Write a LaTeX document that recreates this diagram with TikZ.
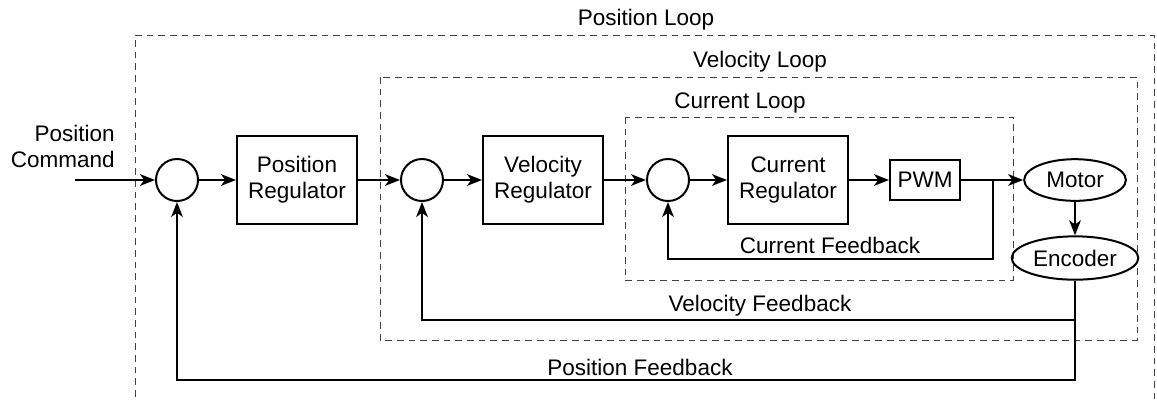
\documentclass[tikz,border=0pt]{standalone}
\usepackage{fontspec}
\setmainfont{Liberation Sans}
\usetikzlibrary{arrows.meta,calc,shapes.geometric}
\tikzset{
  blk/.style={draw, line width=1.2pt, align=center, minimum width=72pt, minimum height=52.8pt, inner sep=1pt},
  sumpt/.style={draw, circle, line width=1.2pt, minimum size=25.2pt, inner sep=0pt},
  plant/.style={draw, ellipse, line width=1.2pt, inner sep=1pt},
  wire/.style={line width=1.2pt, -{Stealth[length=9pt,width=7pt,inset=2.5pt]}},
  loopbox/.style={dashed, line width=0.6pt, draw=black!75, dash pattern=on 4pt off 3pt},
}

\begin{document}
\begin{tikzpicture}[x=0.6pt,y=-0.6pt,font=\fontsize{13.5}{15.6}\selectfont]
  \useasboundingbox (0,0) rectangle (1157,400);
  \clip (0,0) rectangle (1157,400);
  % loop frames
  \draw[loopbox] (135,420) -- (135,35) -- (1154,35) -- (1154,420);
  \draw[loopbox] (380,77) rectangle (1137,340);
  \draw[loopbox] (625,117) rectangle (1013,280);
  \node (lpos) at (646,20) {Position Loop};
  \node (lvel) at (760,62) {Velocity Loop};
  \node (lcur) at (740,103) {Current Loop};
  % forward path
  \node[align=right, anchor=east, inner sep=0pt] (cmd) at (115,146) {Position\\Command};
  \coordinate (in) at (75,180);
  \node[sumpt] (sum1) at (177,180) {};
  \node[blk] (preg) at (297,180) {Position\\Regulator};
  \node[sumpt] (sum2) at (422,180) {};
  \node[blk] (vreg) at (543,180) {Velocity\\Regulator};
  \node[sumpt] (sum3) at (668,180) {};
  \node[blk] (creg) at (788,180) {Current\\Regulator};
  \node[draw, line width=1.2pt, minimum width=42pt, minimum height=24pt] (pwm) at (925,180) {PWM};
  \node[plant, minimum width=61pt, minimum height=25pt] (motor) at (1075,180) {Motor};
  \node[plant, minimum width=76pt, minimum height=26pt] (enc) at (1075,258) {Encoder};
  \draw[wire] (in) -- (sum1);
  \draw[wire] (sum1) -- (preg);
  \draw[wire] (preg) -- (sum2);
  \draw[wire] (sum2) -- (vreg);
  \draw[wire] (vreg) -- (sum3);
  \draw[wire] (sum3) -- (creg);
  \draw[wire] (creg) -- (pwm);
  \draw[wire] (pwm) -- (motor);
  \draw[wire] (motor) -- (enc);
  % feedback paths
  \coordinate (cfb) at (993,180);
  \coordinate (vfb) at (1075,320);
  \coordinate (pfb) at (1075,380);
  \draw[wire] (cfb) -- (cfb |- 0,259) -| (sum3.south);
  \draw[wire] (enc.south) -- (vfb) -| (sum2.south);
  \draw[wire] (enc.south) -- (pfb) -| (sum1.south);
  \node (fcur) at (830,245) {Current Feedback};
  \node (fvel) at (760,306) {Velocity Feedback};
  \node (fpos) at (640,367) {Position Feedback};
\end{tikzpicture}
\end{document}
